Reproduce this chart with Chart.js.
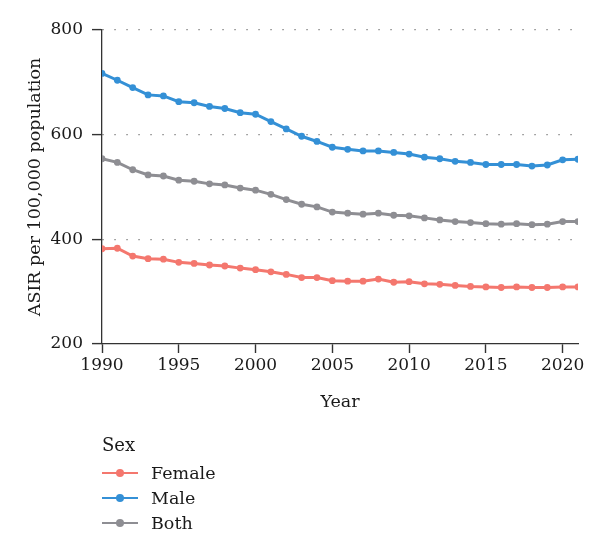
<!DOCTYPE html>
<html><head><meta charset="utf-8">
<script src="https://cdn.jsdelivr.net/npm/chart.js@4.4.0/dist/chart.umd.min.js"></script>
<style>
body{margin:0;background:#fff;}
#wrap{position:relative;width:600px;height:550px;font-family:"DejaVu Serif",serif;color:#1a1a1a;}
#c{position:absolute;left:0;top:0;}
.lg{position:absolute;left:102px;height:22px;line-height:22px;white-space:nowrap;}
.lgTitle{font-size:18px;}
.key{position:absolute;left:0;top:10px;width:36px;height:0;border-top:2px solid;}
.dot{position:absolute;left:14px;top:-5px;width:8px;height:8px;border-radius:50%;}
.lab{position:absolute;left:49px;top:0;font-size:17.5px;}
</style>
</head><body>
<div id="wrap">
<canvas id="c" width="600" height="550"></canvas>
<div id="legend"></div>
</div>
<script>
const years = [1990,1991,1992,1993,1994,1995,1996,1997,1998,1999,2000,2001,2002,2003,2004,2005,2006,2007,2008,2009,2010,2011,2012,2013,2014,2015,2016,2017,2018,2019,2020,2021];
const female = [382,383,368,363,362,356,354,351,349,345,342,338,333,327,327,321,320,320,324,318,319,315,314,312,310,309,308,309,308,308,309,309];
const male = [717,704,690,676,674,663,661,654,650,642,639,625,611,597,587,576,572,569,569,566,563,557,554,549,547,543,543,543,540,542,552,553];
const both = [554,547,533,523,521,513,511,506,504,498,494,486,476,467,462,452,450,448,450,446,445,441,437,434,432,430,429,430,428,429,434,434];
const seriesNames = ["Female","Male","Both"];
const seriesColors = ["#F4776E","#3490D6","#8E8E93"];
const xTicks = [1990,1995,2000,2005,2010,2015,2020];
const yTicks = [200,400,600,800];
const yTitle = "ASIR per 100,000 population";
const xTitle = "Year";
const legendTitle = "Sex";

const seriesValues = [female, male, both];
const datasets = seriesValues.map((vals, i) => ({
  label: seriesNames[i],
  data: years.map((yr, j) => ({x: yr, y: vals[j]})),
  borderColor: seriesColors[i],
  backgroundColor: seriesColors[i],
  pointBackgroundColor: seriesColors[i],
  pointBorderColor: seriesColors[i],
  borderWidth: 3,
  pointRadius: 3.4,
  pointBorderWidth: 0,
  tension: 0
}));
const tickFont = {family: "DejaVu Serif", size: 17};
const titleFont = {family: "DejaVu Serif", size: 17.5};

new Chart(document.getElementById('c'), {
  type: 'line',
  data: {datasets: datasets},
  options: {
    responsive: false,
    animation: false,
    devicePixelRatio: 1,
    layout: {padding: {left: 0, right: 22, top: 30, bottom: 136}},
    plugins: {legend: {display: false}, tooltip: {enabled: false}},
    scales: {
      x: {
        type: 'linear', min: 1990, max: 2021,
        afterBuildTicks: s => { s.ticks = xTicks.map(v => ({value: v})); },
        afterFit: s => { s.height = 70; },
        ticks: {font: tickFont, color: '#1a1a1a', padding: 2, maxRotation: 0, callback: v => String(v)},
        grid: {drawOnChartArea: false, drawTicks: true, tickLength: 9, tickColor: '#333333', tickWidth: 1.4},
        border: {display: true, color: '#333333', width: 1.3},
        title: {display: true, text: xTitle, font: titleFont, color: '#1a1a1a', padding: {top: 0, bottom: 1}}
      },
      y: {
        type: 'linear', min: 200, max: 800,
        afterBuildTicks: s => { s.ticks = yTicks.map(v => ({value: v})); },
        afterFit: s => { s.width = 102; },
        ticks: {font: tickFont, color: '#1a1a1a', padding: 9, callback: v => String(v)},
        grid: {
          drawOnChartArea: true, drawTicks: true, tickLength: 10,
          color: ctx => (ctx.tick && ctx.tick.value === 200) ? 'rgba(0,0,0,0)' : '#8a8a8a',
          lineWidth: 1.2,
          tickColor: '#333333', tickWidth: 1.4, tickBorderDash: []
        },
        border: {display: true, color: '#333333', width: 1.3, dash: [1.5, 10.5]},
        title: {display: true, text: yTitle, font: titleFont, color: '#1a1a1a', padding: {top: 25, bottom: 0}}
      }
    }
  }
});

const lg = document.getElementById('legend');
let html = '<div class="lg lgTitle" style="top:434px">' + legendTitle + '</div>';
const centers = [473, 498, 523];
seriesNames.forEach((n, i) => {
  html += '<div class="lg" style="top:' + (centers[i] - 11) + 'px">' +
    '<div class="key" style="border-color:' + seriesColors[i] + '"><div class="dot" style="background:' + seriesColors[i] + '"></div></div>' +
    '<div class="lab">' + n + '</div></div>';
});
lg.innerHTML = html;
</script>
</body></html>
